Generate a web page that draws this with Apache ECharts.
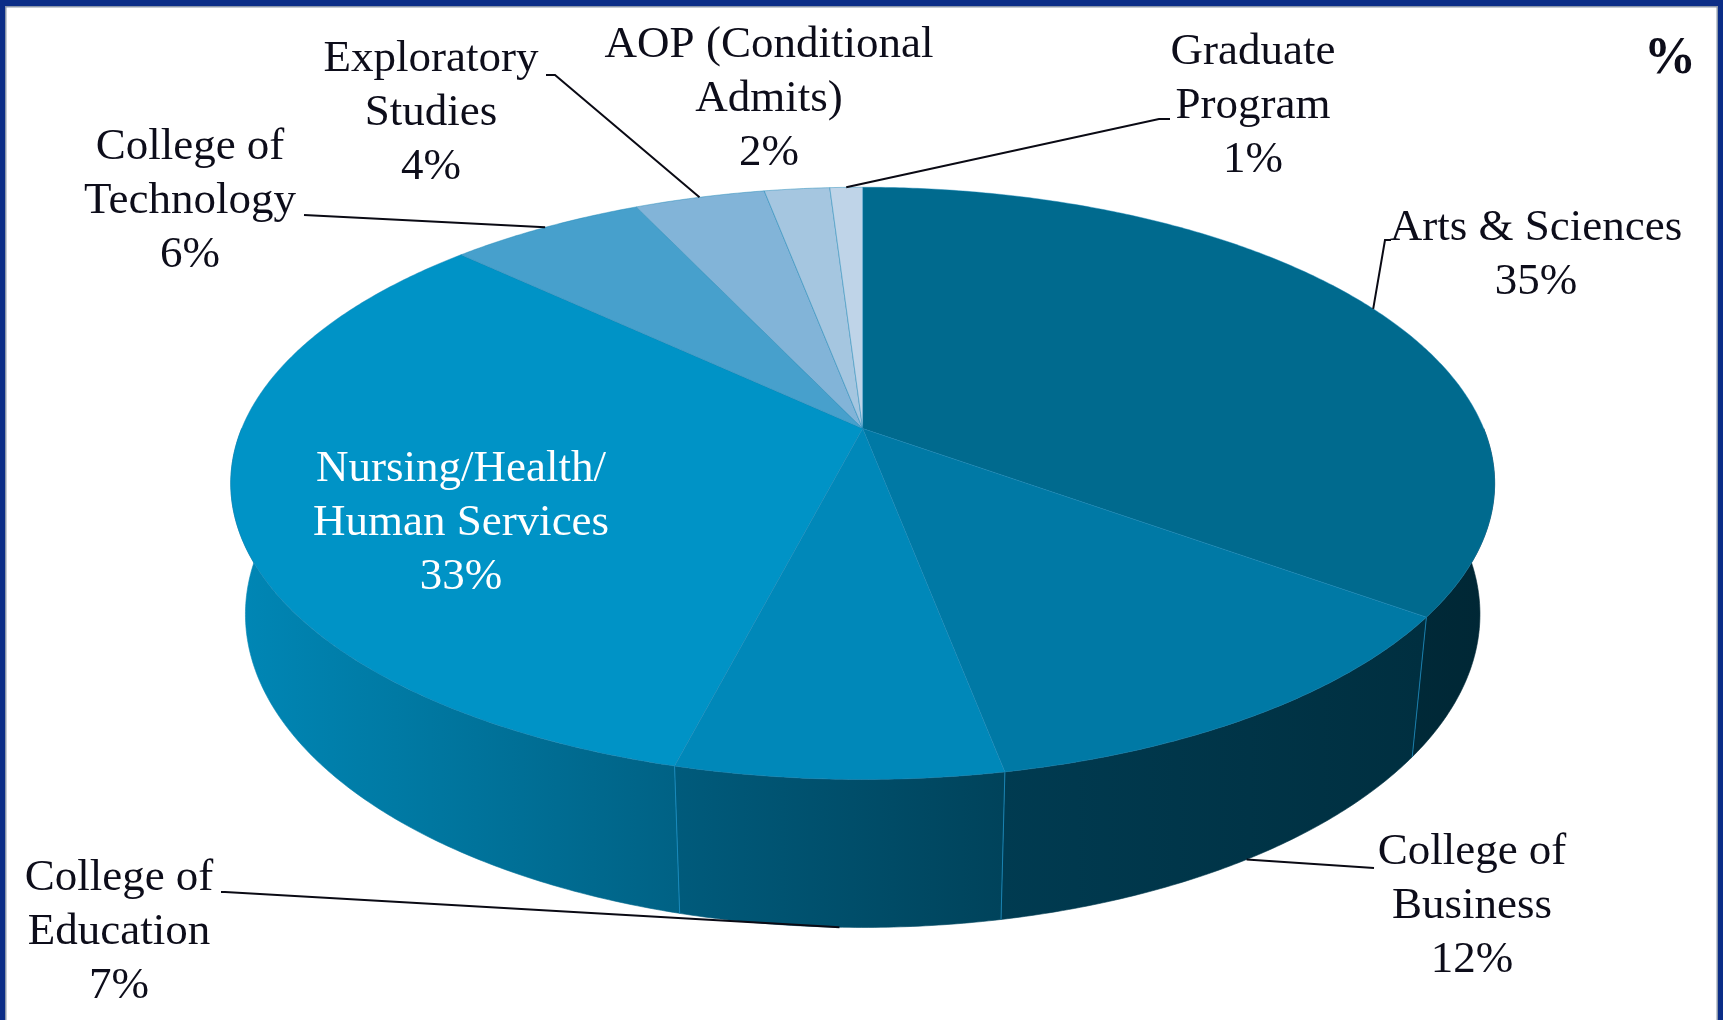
<!DOCTYPE html>
<html><head><meta charset="utf-8">
<script src="https://cdn.jsdelivr.net/npm/echarts@6/dist/echarts.min.js"></script>
<style>html,body{margin:0;padding:0;background:#fff;overflow:hidden}#c{width:1723px;height:1020px}</style>
</head><body><div id="c"></div>
<script>
// ---- data ----
const categories = ['Arts & Sciences','College of Business','College of Education','Nursing/Health/Human Services','College of Technology','Exploratory Studies','AOP (Conditional Admits)','Graduate Program'];
const values = [35, 12, 7, 33, 6, 4, 2, 1];
const unitLabel = '%';

// ---- styles / layout ----
const labelText = ['Arts & Sciences','College of\nBusiness','College of\nEducation','Nursing/Health/\nHuman Services','College of\nTechnology','Exploratory\nStudies','AOP (Conditional\nAdmits)','Graduate\nProgram'];
const colors = ['#006a8e','#0079a5','#0088b9','#0093c6','#47a0cc','#82b4d8','#a5c6e0','#bfd4e8'];
const labelColor = ['#0d0d1a','#0d0d1a','#0d0d1a','#ffffff','#0d0d1a','#0d0d1a','#0d0d1a','#0d0d1a'];
const labelPos = [[1536,255],[1472,906],[119,932],[461,523],[190,201],[431,113],[769,99],[1253,106]];
const leaderPts = [[[1385,240],[1391,240]], [[1374,868]], [[225,892],[221,892]], null, [[304,215]], [[555,75],[546,75]], null, [[1159,119],[1170,119]]];

// projection of the 3D disc (camera set-up)
const X0 = 862.7, Y0 = 428.6, F = 2981, D = 4.80;
const SA = 0.4605, CA = 0.8876, H = 0.2396;
function proj(phi, y) {
  const x = Math.sin(phi), z = -Math.cos(phi);
  const depth = D - y * SA - z * CA;
  return [X0 + F * x / depth, Y0 + F * (z * SA - y * CA) / depth];
}
const total = values.reduce((s, v) => s + v, 0);
const cum = []; values.reduce((s, v, i) => { cum[i] = s; return s + v; }, 0);

function shade(hex, f) {
  const r = parseInt(hex.slice(1,3),16), g = parseInt(hex.slice(3,5),16), b = parseInt(hex.slice(5,7),16);
  return 'rgb(' + Math.round(r*f) + ',' + Math.round(g*f) + ',' + Math.round(b*f) + ')';
}
const wallStops = [[0,0.92],[0.13,0.83],[0.35,0.67],[0.61,0.49],[1,0.37]];
function wallFill(hex) {
  return new echarts.graphic.LinearGradient(231, 0, 1495, 0,
    wallStops.map(s => ({offset: s[0], color: shade(hex, s[1])})), true);
}
const STEP = Math.PI / 360;

function renderItem(params, api) {
  const i = params.dataIndex;
  const v = api.value(0);
  const a = cum[i] / total * 2 * Math.PI;
  const b = (cum[i] + v) / total * 2 * Math.PI;
  const children = [];
  // side wall (front part)
  const lo = Math.max(a, Math.PI / 2), hi = Math.min(b, 1.5 * Math.PI);
  if (hi > lo) {
    const pts = [];
    const n = Math.max(2, Math.ceil((hi - lo) / STEP));
    for (let k = 0; k <= n; k++) pts.push(proj(lo + (hi - lo) * k / n, 0));
    for (let k = n; k >= 0; k--) pts.push(proj(lo + (hi - lo) * k / n, -H));
    children.push({type: 'polygon', shape: {points: pts}, style: {fill: wallFill(colors[i]), stroke: wallFill(colors[i]), lineWidth: 0.6}, z2: 1});
  }
  if (a > Math.PI / 2 && a < 1.5 * Math.PI) {
    const p0 = proj(a, 0), p1 = proj(a, -H);
    children.push({type: 'line', shape: {x1: p0[0], y1: p0[1], x2: p1[0], y2: p1[1]}, style: {stroke: 'rgba(30,150,205,0.75)', lineWidth: 1}, z2: 2});
  }
  // top face
  const tp = [[X0, Y0]];
  const n2 = Math.max(2, Math.ceil((b - a) / STEP));
  for (let k = 0; k <= n2; k++) tp.push(proj(a + (b - a) * k / n2, 0));
  children.push({type: 'polygon', shape: {points: tp}, style: {fill: colors[i], stroke: 'rgba(20,130,180,0.55)', lineWidth: 0.8}, z2: 3});
  // leader line
  if (leaderPts[i]) {
    const m = (a + b) / 2;
    const front = -Math.cos(m) > 0.3;
    const s = proj(m, front ? -H : 0);
    children.push({type: 'polyline', shape: {points: [s].concat(leaderPts[i])}, style: {stroke: '#0a0a14', lineWidth: 2, fill: null}, z2: 9});
  }
  // label
  children.push({type: 'text', x: labelPos[i][0], y: labelPos[i][1], z2: 10,
    style: {text: labelText[i] + '\n' + v + '%', fill: labelColor[i], fontFamily: 'Liberation Serif', fontSize: 45, lineHeight: 54, align: 'center', verticalAlign: 'middle'}});
  return {type: 'group', children: children};
}

const chart = echarts.init(document.getElementById('c'), null, {renderer: 'canvas'});
chart.setOption({
  backgroundColor: '#ffffff',
  animation: false,
  graphic: [
    {type: 'rect', shape: {x: 0, y: 0, width: 1723, height: 6}, style: {fill: '#0b2d87'}, z: 100},
    {type: 'rect', shape: {x: 0, y: 6, width: 1723, height: 1.5}, style: {fill: '#8c97aa'}, z: 100},
    {type: 'rect', shape: {x: 0, y: 0, width: 5, height: 1020}, style: {fill: '#0b2d87'}, z: 100},
    {type: 'rect', shape: {x: 5, y: 6, width: 1.5, height: 1014}, style: {fill: '#8c97aa'}, z: 100},
    {type: 'rect', shape: {x: 1718, y: 0, width: 5, height: 1020}, style: {fill: '#0b2d87'}, z: 100},
    {type: 'rect', shape: {x: 1716.5, y: 6, width: 1.5, height: 1014}, style: {fill: '#8c97aa'}, z: 100},
    {type: 'text', x: 1670, y: 60, style: {text: unitLabel, fill: '#0d0d1a', fontFamily: 'Liberation Serif', fontWeight: 'bold', fontSize: 52, align: 'center', verticalAlign: 'middle'}, z: 100}
  ],
  series: [{
    type: 'custom',
    coordinateSystem: 'none',
    renderItem: renderItem,
    data: values.map((v, i) => ({name: categories[i], value: v}))
  }]
});
</script>
</body></html>
